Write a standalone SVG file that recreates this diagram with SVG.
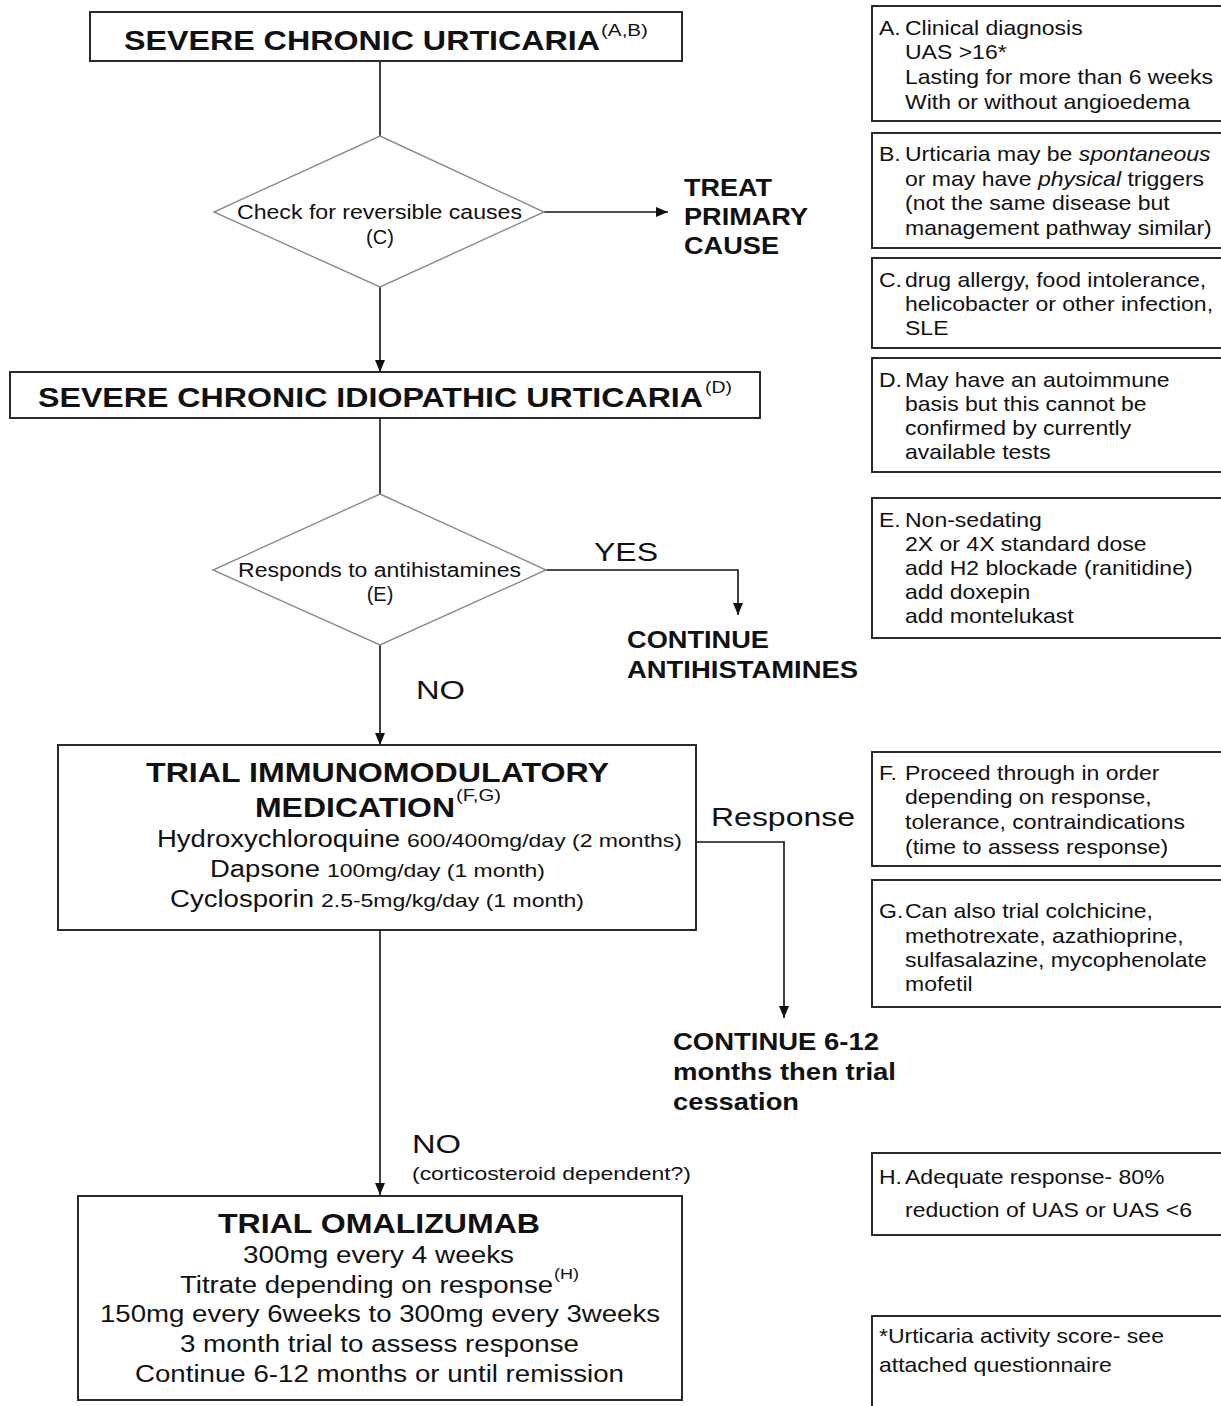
<svg xmlns="http://www.w3.org/2000/svg" width="1221" height="1406" viewBox="0 0 1221 1406">
<style>
text{font-family:"Liberation Sans",Arial,sans-serif;fill:#111;}
.b{font-weight:bold;}
.box{fill:#fff;stroke:#2a2a2a;stroke-width:2;}
.dia{fill:#fff;stroke:#8a8a8a;stroke-width:1.4;}
.con{fill:none;stroke:#111;stroke-width:1.6;}
.note{fill:#fff;stroke:#2a2a2a;stroke-width:2;}
.nt{font-size:20px;}
</style>
<defs>
<marker id="arr" viewBox="0 0 12 10" refX="12" refY="5" markerWidth="12" markerHeight="10" markerUnits="userSpaceOnUse" orient="auto">
<path d="M0,0 L12,5 L0,10 z" fill="#111"/>
</marker>
</defs>
<rect width="1221" height="1406" fill="#fff"/>

<g id="connectors">
<line class="con" x1="380" y1="61" x2="380" y2="136"/>
<line class="con" x1="544" y1="212" x2="668" y2="212" marker-end="url(#arr)"/>
<line class="con" x1="380" y1="287" x2="380" y2="372" marker-end="url(#arr)"/>
<line class="con" x1="380" y1="418" x2="380" y2="494"/>
<polyline class="con" points="546,570 738,570 738,615" marker-end="url(#arr)"/>
<line class="con" x1="380" y1="645" x2="380" y2="745" marker-end="url(#arr)"/>
<polyline class="con" points="696,842 784,842 784,1018" marker-end="url(#arr)"/>
<line class="con" x1="380" y1="930" x2="380" y2="1195" marker-end="url(#arr)"/>
<text x="594" y="561" font-size="26" textLength="64" lengthAdjust="spacingAndGlyphs">YES</text>
<text x="416" y="699" font-size="26" textLength="49" lengthAdjust="spacingAndGlyphs">NO</text>
<text x="711" y="826" font-size="26" textLength="144" lengthAdjust="spacingAndGlyphs">Response</text>
<text x="412" y="1153" font-size="26" textLength="49" lengthAdjust="spacingAndGlyphs">NO</text>
<text x="412" y="1180" font-size="19" textLength="279" lengthAdjust="spacingAndGlyphs">(corticosteroid dependent?)</text>
</g>

<g id="n-severe-chronic">
<rect class="box" x="90" y="12" width="592" height="49"/>
<text class="b" x="124" y="50" font-size="28" textLength="476" lengthAdjust="spacingAndGlyphs">SEVERE CHRONIC URTICARIA</text>
<text x="601" y="36" font-size="16" textLength="47" lengthAdjust="spacingAndGlyphs">(A,B)</text>
</g>

<g id="n-check-causes">
<polygon class="dia" points="380,136 544,212 380,287 214,212"/>
<text x="237" y="219" font-size="20" textLength="285" lengthAdjust="spacingAndGlyphs">Check for reversible causes</text>
<text x="380" y="244" font-size="20" text-anchor="middle">(C)</text>
</g>

<g id="n-treat-primary">
<text class="b" x="684" y="196" font-size="24" textLength="88" lengthAdjust="spacingAndGlyphs">TREAT</text>
<text class="b" x="684" y="225" font-size="24" textLength="124" lengthAdjust="spacingAndGlyphs">PRIMARY</text>
<text class="b" x="684" y="254" font-size="24" textLength="95" lengthAdjust="spacingAndGlyphs">CAUSE</text>
</g>

<g id="n-idiopathic">
<rect class="box" x="10" y="372" width="750" height="46"/>
<text class="b" x="38" y="407" font-size="27" textLength="665" lengthAdjust="spacingAndGlyphs">SEVERE CHRONIC IDIOPATHIC URTICARIA</text>
<text x="705" y="393" font-size="16" textLength="27" lengthAdjust="spacingAndGlyphs">(D)</text>
</g>

<g id="n-responds">
<polygon class="dia" points="380,494 546,570 380,645 213,570"/>
<text x="238" y="577" font-size="20" textLength="283" lengthAdjust="spacingAndGlyphs">Responds to antihistamines</text>
<text x="380" y="601" font-size="20" text-anchor="middle">(E)</text>
</g>

<g id="n-continue-antihistamines">
<text class="b" x="627" y="648" font-size="24" textLength="142" lengthAdjust="spacingAndGlyphs">CONTINUE</text>
<text class="b" x="627" y="678" font-size="24" textLength="231" lengthAdjust="spacingAndGlyphs">ANTIHISTAMINES</text>
</g>

<g id="n-immuno">
<rect class="box" x="58" y="745" width="638" height="185"/>
<text class="b" x="146" y="782" font-size="28" textLength="463" lengthAdjust="spacingAndGlyphs">TRIAL IMMUNOMODULATORY</text>
<text class="b" x="255" y="817" font-size="28" textLength="200" lengthAdjust="spacingAndGlyphs">MEDICATION</text>
<text x="456" y="801" font-size="16" textLength="45" lengthAdjust="spacingAndGlyphs">(F,G)</text>
<text x="157" y="847" font-size="23" textLength="243" lengthAdjust="spacingAndGlyphs">Hydroxychloroquine</text>
<text x="407" y="847" font-size="19" textLength="275" lengthAdjust="spacingAndGlyphs">600/400mg/day (2 months)</text>
<text x="210" y="877" font-size="23" textLength="110" lengthAdjust="spacingAndGlyphs">Dapsone</text>
<text x="327" y="877" font-size="19" textLength="218" lengthAdjust="spacingAndGlyphs">100mg/day (1 month)</text>
<text x="170" y="907" font-size="23" textLength="144" lengthAdjust="spacingAndGlyphs">Cyclosporin</text>
<text x="321" y="907" font-size="19" textLength="263" lengthAdjust="spacingAndGlyphs">2.5-5mg/kg/day (1 month)</text>
</g>

<g id="n-continue-6-12">
<text class="b" x="673" y="1050" font-size="24" textLength="206" lengthAdjust="spacingAndGlyphs">CONTINUE 6-12</text>
<text class="b" x="673" y="1080" font-size="24" textLength="223" lengthAdjust="spacingAndGlyphs">months then trial</text>
<text class="b" x="673" y="1110" font-size="24" textLength="126" lengthAdjust="spacingAndGlyphs">cessation</text>
</g>

<g id="n-omalizumab">
<rect class="box" x="78" y="1196" width="604" height="204"/>
<text class="b" x="218" y="1233" font-size="28" textLength="322" lengthAdjust="spacingAndGlyphs">TRIAL OMALIZUMAB</text>
<text x="243" y="1263" font-size="23" textLength="271" lengthAdjust="spacingAndGlyphs">300mg every 4 weeks</text>
<text x="180" y="1293" font-size="23" textLength="373" lengthAdjust="spacingAndGlyphs">Titrate depending on response</text>
<text x="554" y="1279" font-size="15" textLength="25" lengthAdjust="spacingAndGlyphs">(H)</text>
<text x="100" y="1322" font-size="23" textLength="560" lengthAdjust="spacingAndGlyphs">150mg every 6weeks to 300mg every 3weeks</text>
<text x="180" y="1352" font-size="23" textLength="399" lengthAdjust="spacingAndGlyphs">3 month trial to assess response</text>
<text x="135" y="1382" font-size="23" textLength="489" lengthAdjust="spacingAndGlyphs">Continue 6-12 months or until remission</text>
</g>

<g id="note-a">
<rect class="note" x="872" y="6" width="360" height="115"/>
<text class="nt" transform="translate(879 35) scale(1.15 1)">A.</text>
<text class="nt" transform="translate(905 35) scale(1.15 1)">Clinical diagnosis</text>
<text class="nt" transform="translate(905 59) scale(1.15 1)">UAS &gt;16*</text>
<text class="nt" transform="translate(905 84) scale(1.15 1)">Lasting for more than 6 weeks</text>
<text class="nt" transform="translate(905 109) scale(1.15 1)">With or without angioedema</text>
</g>

<g id="note-b">
<rect class="note" x="872" y="133" width="360" height="115"/>
<text class="nt" transform="translate(879 161) scale(1.15 1)">B.</text>
<text class="nt" transform="translate(905 161) scale(1.15 1)">Urticaria may be <tspan font-style="italic">spontaneous</tspan></text>
<text class="nt" transform="translate(905 186) scale(1.15 1)">or may have <tspan font-style="italic">physical</tspan> triggers</text>
<text class="nt" transform="translate(905 210) scale(1.15 1)">(not the same disease but</text>
<text class="nt" transform="translate(905 235) scale(1.15 1)">management pathway similar)</text>
</g>

<g id="note-c">
<rect class="note" x="872" y="258" width="360" height="90"/>
<text class="nt" transform="translate(879 287) scale(1.15 1)">C.</text>
<text class="nt" transform="translate(905 287) scale(1.15 1)">drug allergy, food intolerance,</text>
<text class="nt" transform="translate(905 311) scale(1.15 1)">helicobacter or other infection,</text>
<text class="nt" transform="translate(905 335) scale(1.15 1)">SLE</text>
</g>

<g id="note-d">
<rect class="note" x="872" y="358" width="360" height="114"/>
<text class="nt" transform="translate(879 387) scale(1.15 1)">D.</text>
<text class="nt" transform="translate(905 387) scale(1.15 1)">May have an autoimmune</text>
<text class="nt" transform="translate(905 411) scale(1.15 1)">basis but this cannot be</text>
<text class="nt" transform="translate(905 435) scale(1.15 1)">confirmed by currently</text>
<text class="nt" transform="translate(905 459) scale(1.15 1)">available tests</text>
</g>

<g id="note-e">
<rect class="note" x="872" y="498" width="360" height="140"/>
<text class="nt" transform="translate(879 527) scale(1.15 1)">E.</text>
<text class="nt" transform="translate(905 527) scale(1.15 1)">Non-sedating</text>
<text class="nt" transform="translate(905 551) scale(1.15 1)">2X or 4X standard dose</text>
<text class="nt" transform="translate(905 575) scale(1.15 1)">add H2 blockade (ranitidine)</text>
<text class="nt" transform="translate(905 599) scale(1.15 1)">add doxepin</text>
<text class="nt" transform="translate(905 623) scale(1.15 1)">add montelukast</text>
</g>

<g id="note-f">
<rect class="note" x="872" y="752" width="360" height="114"/>
<text class="nt" transform="translate(879 780) scale(1.15 1)">F.</text>
<text class="nt" transform="translate(905 780) scale(1.15 1)">Proceed through in order</text>
<text class="nt" transform="translate(905 804) scale(1.15 1)">depending on response,</text>
<text class="nt" transform="translate(905 829) scale(1.15 1)">tolerance, contraindications</text>
<text class="nt" transform="translate(905 854) scale(1.15 1)">(time to assess response)</text>
</g>

<g id="note-g">
<rect class="note" x="872" y="880" width="360" height="127"/>
<text class="nt" transform="translate(879 918) scale(1.15 1)">G.</text>
<text class="nt" transform="translate(905 918) scale(1.15 1)">Can also trial colchicine,</text>
<text class="nt" transform="translate(905 943) scale(1.15 1)">methotrexate, azathioprine,</text>
<text class="nt" transform="translate(905 967) scale(1.15 1)">sulfasalazine, mycophenolate</text>
<text class="nt" transform="translate(905 991) scale(1.15 1)">mofetil</text>
</g>

<g id="note-h">
<rect class="note" x="872" y="1153" width="360" height="82"/>
<text class="nt" transform="translate(879 1184) scale(1.15 1)">H.</text>
<text class="nt" transform="translate(905 1184) scale(1.15 1)">Adequate response- 80%</text>
<text class="nt" transform="translate(905 1217) scale(1.15 1)">reduction of UAS or UAS &lt;6</text>
</g>

<g id="note-star">
<rect class="note" x="872" y="1316" width="360" height="110"/>
<text class="nt" transform="translate(879 1343) scale(1.15 1)">*Urticaria activity score- see</text>
<text class="nt" transform="translate(879 1372) scale(1.15 1)">attached questionnaire</text>
</g>
</svg>
